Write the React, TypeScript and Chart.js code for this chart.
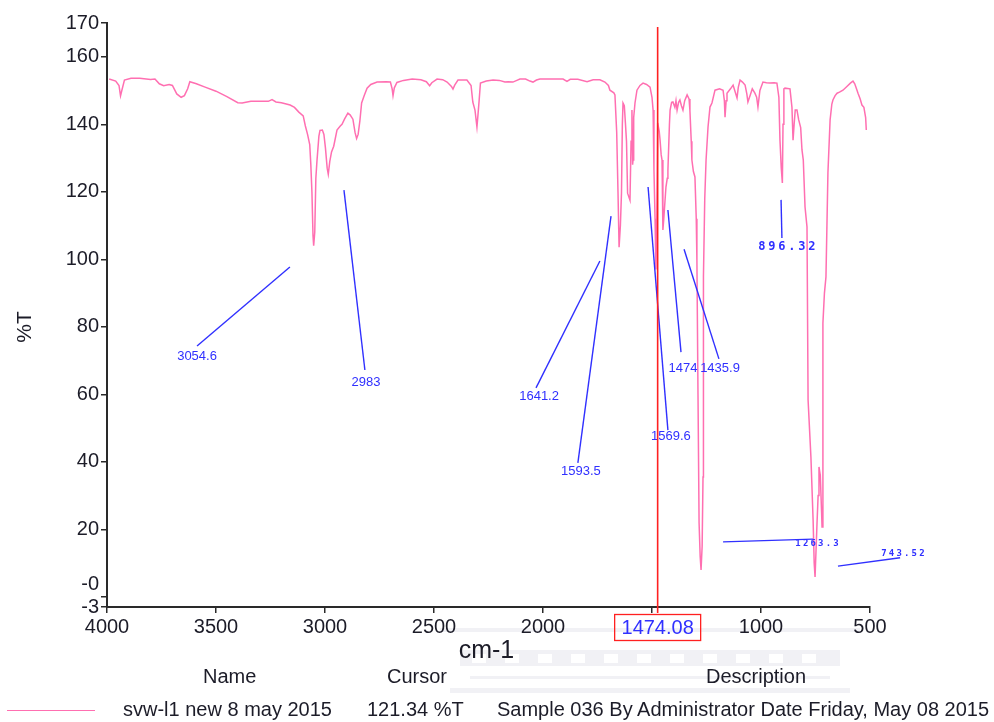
import { useEffect, useRef } from "react";
import { Chart, registerables } from "chart.js";

Chart.register(...registerables);

// ---- data -------------------------------------------------------------
const wavenumbers = [
  3990, 3960, 3945, 3938, 3932, 3920, 3890, 3850, 3800, 3780, 3760, 3740, 3715, 3700, 3680, 3660, 3645, 3630, 3620,
  3590, 3550, 3500, 3450, 3400, 3380, 3340, 3300, 3260, 3243, 3225, 3200, 3160, 3140, 3120, 3100, 3090, 3080, 3070,
  3065, 3060, 3055, 3052, 3047, 3042, 3037, 3028, 3023, 3012, 3005, 2998, 2990, 2985, 2978, 2970, 2960, 2945, 2930,
  2922, 2910, 2895, 2885, 2872, 2862, 2855, 2848, 2840, 2832, 2820, 2807, 2790, 2761, 2720, 2700, 2692, 2688, 2682,
  2670, 2640, 2600, 2560, 2535, 2520, 2510, 2486, 2460, 2440, 2420, 2413, 2405, 2390, 2349, 2330, 2322, 2312, 2303,
  2298, 2293, 2287, 2260, 2229, 2200, 2175, 2160, 2138, 2120, 2106, 2080, 2060, 2046, 2030, 2014, 1960, 1908, 1890,
  1875, 1840, 1798, 1770, 1739, 1716, 1700, 1693, 1675, 1670, 1662, 1656, 1651, 1645, 1640, 1636, 1633, 1627, 1622,
  1617, 1612, 1601, 1596, 1592, 1589, 1587, 1584, 1578, 1569, 1555, 1541, 1525, 1509, 1500, 1495, 1491, 1486, 1482,
  1478, 1474, 1467, 1463, 1458, 1454, 1450, 1446, 1436, 1430, 1427, 1420, 1417, 1410, 1404, 1395, 1390, 1385, 1378,
  1372, 1365, 1358, 1350, 1339, 1330, 1326, 1320, 1317, 1310, 1303, 1297, 1294, 1289, 1284, 1279, 1275, 1270, 1266,
  1264, 1258, 1252, 1243, 1234, 1225, 1211, 1190, 1174, 1168, 1165, 1160, 1156, 1140, 1128, 1118, 1110, 1104, 1096,
  1085, 1073, 1065, 1060, 1050, 1040, 1028, 1020, 1014, 1005, 991, 975, 959, 940, 927, 918, 913, 907, 902, 899, 895,
  890, 867, 858, 853, 848, 843, 835, 827, 818, 812, 806, 798, 789, 784, 771, 761, 756, 752, 748, 743, 738, 734, 728,
  722, 720, 716, 709, 702, 693, 683, 675, 670, 660, 651, 640, 624, 606, 590, 578, 570, 562, 555, 545, 537, 528, 520,
  517,
];
const transmittance = [
  153.4, 152.8, 151.5, 148.4, 150.0, 153.1, 153.6, 153.6, 153.3, 153.4, 152.0, 151.4, 151.8, 151.5, 149.0, 148.0,
  148.5, 150.5, 152.6, 152.0, 151.0, 149.8, 148.2, 146.4, 146.3, 146.8, 146.8, 146.8, 147.3, 146.6, 146.4, 145.7,
  145.0, 143.6, 142.5, 139.5, 137.0, 134.0, 128.0, 120.0, 107.0, 104.0, 108.0, 124.0, 129.0, 136.5, 138.2, 138.3,
  137.0, 133.0, 127.0, 125.2, 129.0, 131.8, 133.5, 138.3, 139.5, 140.0, 141.6, 143.3, 142.8, 141.5, 137.5, 135.8,
  137.0, 141.0, 146.3, 148.5, 150.7, 151.8, 152.5, 152.6, 152.5, 150.5, 148.5, 150.8, 152.4, 153.0, 153.4, 153.2,
  152.6, 151.4, 152.3, 153.4, 153.2, 152.5, 151.2, 150.4, 151.6, 153.1, 153.1, 151.5, 146.6, 144.2, 139.2, 143.0,
  147.0, 152.2, 152.8, 153.1, 153.0, 152.5, 152.6, 152.5, 153.0, 153.4, 153.4, 152.8, 152.5, 153.1, 153.4, 153.4,
  153.4, 152.7, 153.3, 153.3, 152.6, 153.2, 153.2, 152.5, 151.5, 150.1, 149.3, 148.7, 137.7, 120.0, 103.6, 110.0,
  119.6, 140.0, 146.3, 145.5, 140.4, 135.0, 119.6, 117.5, 135.0, 144.2, 128.0, 129.4, 142.0, 146.3, 150.1, 151.5,
  152.2, 151.8, 151.0, 148.0, 144.2, 126.4, 112.0, 97.0, 112.0, 140.4, 138.0, 135.3, 131.0, 129.4, 108.7, 112.0,
  121.4, 124.0, 126.4, 140.0, 144.2, 146.5, 146.6, 145.0, 147.0, 144.2, 146.5, 147.2, 145.5, 144.2, 147.0, 148.7,
  147.5, 144.0, 135.0, 129.4, 126.0, 124.4, 112.0, 99.8, 60.0, 21.9, 12.0, 8.0, 15.0, 35.5, 95.0, 118.0, 129.4,
  139.2, 145.1, 146.3, 150.1, 150.5, 150.1, 147.0, 142.1, 147.0, 149.2, 150.5, 151.6, 149.5, 147.8, 151.0, 153.1,
  152.5, 151.6, 149.0, 146.6, 148.5, 150.5, 149.2, 148.0, 145.1, 150.0, 152.5, 152.3, 152.2, 152.3, 152.2, 148.0,
  135.3, 127.0, 122.6, 140.0, 150.5, 150.7, 150.5, 145.0, 135.3, 140.0, 144.2, 144.2, 141.3, 139.0, 132.4, 129.4,
  115.5, 109.6, 58.3, 41.4, 22.8, 10.0, 5.9, 5.9, 21.9, 30.0, 38.5, 36.0, 25.0, 20.7, 81.1, 90.0, 94.8, 125.6,
  141.3, 146.0, 147.2, 148.5, 149.2, 149.5, 150.1, 151.2, 152.2, 152.8, 152.0, 150.5, 149.2, 147.5, 145.7, 145.0,
  142.0, 138.3,
];

const xTickValues = [4000, 3500, 3000, 2500, 2000, 1500, 1000, 500];
const yTickValues = [170, 160, 140, 120, 100, 80, 60, 40, 20, 0, -3];

// peak call-outs (data coordinates)
const peakLabels = ["3054.6", "2983", "1641.2", "1593.5", "1569.6", "1474", "1435.9", "896.32", "1263.3", "743.52"];
const peakLineStartWn = [3161, 2913, 1739, 1688, 1518, 1427, 1353, 908, 1174, 647];
const peakLineStartT = [97.7, 120.5, 99.5, 112.8, 121.4, 114.6, 103.0, 117.6, 16.3, 9.1];
const peakLineEndWn = [3587, 2817, 2032, 1840, 1427, 1367, 1193, 904, 762, 362];
const peakLineEndT = [74.3, 67.2, 61.9, 39.7, 49.4, 72.5, 70.5, 106.3, 17.1, 11.6];
const peakLabelWn = [3587, 2812, 2018, 1826, 1413, 1358, 1188, 881, 743, 349];
const peakLabelT = [71.3, 63.6, 59.5, 37.3, 47.4, 67.8, 67.8, 103.6, 15.7, 12.7];
const peakLabelKind = ["plain", "plain", "plain", "plain", "plain", "plain", "plain", "mono", "monoSmall", "monoSmall"];

const cursorWn = 1474.08;
const cursorLabel = "1474.08";
const cursorValue = "121.34 %T";
const sampleName = "svw-l1 new 8 may 2015";
const sampleDescription = "Sample 036 By Administrator Date Friday, May 08 2015";

const PINK = "#ff6fb1";
const BLUE = "#3030ff";
const AXIS = "#2a2a2a";
const TEXT = "#1c1c28";
const WATERMARK = "#f1f1f5";
const FONT = "'Liberation Sans', Arial, sans-serif";

const annotationPlugin = {
  id: "irAnnotations",
  afterDatasetsDraw(chart: any) {
    const { ctx, chartArea } = chart;
    const xs = chart.scales.x;
    const ys = chart.scales.y;
    ctx.save();
    // call-out lines
    ctx.strokeStyle = BLUE;
    ctx.lineWidth = 1.4;
    for (let i = 0; i < peakLabels.length; i++) {
      ctx.beginPath();
      ctx.moveTo(xs.getPixelForValue(peakLineStartWn[i]), ys.getPixelForValue(peakLineStartT[i]));
      ctx.lineTo(xs.getPixelForValue(peakLineEndWn[i]), ys.getPixelForValue(peakLineEndT[i]));
      ctx.stroke();
    }
    // call-out labels
    ctx.fillStyle = BLUE;
    ctx.textBaseline = "middle";
    for (let i = 0; i < peakLabels.length; i++) {
      const px = xs.getPixelForValue(peakLabelWn[i]);
      const py = ys.getPixelForValue(peakLabelT[i]);
      const kind = peakLabelKind[i];
      if (kind === "plain") {
        ctx.font = `13px ${FONT}`;
        ctx.textAlign = "center";
        ctx.fillText(peakLabels[i], px, py);
      } else {
        const big = kind === "mono";
        ctx.font = big ? "bold 12px 'DejaVu Sans Mono', monospace" : "bold 9px 'DejaVu Sans Mono', monospace";
        ctx.textAlign = "center";
        const step = big ? 10 : 7.6;
        const s = peakLabels[i];
        const start = px - ((s.length - 1) * step) / 2;
        for (let k = 0; k < s.length; k++) ctx.fillText(s[k], start + k * step, py);
      }
    }
    // cursor
    const cx = xs.getPixelForValue(cursorWn);
    ctx.strokeStyle = "#ff2020";
    ctx.lineWidth = 1.6;
    ctx.beginPath();
    ctx.moveTo(cx, ys.getPixelForValue(168.8));
    ctx.lineTo(cx, chartArea.bottom + 6);
    ctx.stroke();
    ctx.lineWidth = 1.3;
    ctx.strokeRect(cx - 43, chartArea.bottom + 7.5, 86, 26);
    ctx.fillStyle = BLUE;
    ctx.font = `20px ${FONT}`;
    ctx.textAlign = "center";
    ctx.fillText(cursorLabel, cx, chartArea.bottom + 21);
    // axis titles
    ctx.fillStyle = TEXT;
    ctx.font = `25px ${FONT}`;
    ctx.fillText("cm-1", (chartArea.left + chartArea.right) / 2 - 2, chartArea.bottom + 44);
    ctx.save();
    ctx.translate(25, (chartArea.top + chartArea.bottom) / 2 + 12);
    ctx.rotate(-Math.PI / 2);
    ctx.font = `21px ${FONT}`;
    ctx.fillText("%T", 0, 0);
    ctx.restore();
    ctx.restore();
  },
};

function Watermark() {
  const wm: any = { position: "absolute", background: WATERMARK };
  const windows = [0, 1, 2, 3, 4, 5, 6, 7, 8, 9, 10];
  return (
    <>
      <div style={{ ...wm, left: 440, top: 628, width: 420, height: 4 }} />
      <div style={{ ...wm, left: 460, top: 650, width: 380, height: 16 }} />
      {windows.map((k) => (
        <div key={k} style={{ position: "absolute", background: "#fff", left: 472 + k * 33, top: 654, width: 14, height: 9 }} />
      ))}
      <div style={{ ...wm, left: 450, top: 688, width: 400, height: 5 }} />
      <div style={{ ...wm, left: 470, top: 676, width: 360, height: 3 }} />
    </>
  );
}

export default function App() {
  const canvasRef = useRef<HTMLCanvasElement | null>(null);

  useEffect(() => {
    if (!canvasRef.current) return;
    const points = wavenumbers.map((w, i) => ({ x: w, y: transmittance[i] }));
    const chart = new Chart(canvasRef.current, {
      type: "line",
      data: {
        datasets: [
          {
            label: sampleName,
            data: points,
            borderColor: PINK,
            borderWidth: 1.5,
            pointRadius: 0,
            fill: false,
            tension: 0,
          },
        ],
      },
      options: {
        responsive: false,
        animation: false,
        devicePixelRatio: 1,
        layout: { padding: { left: 0, top: 23, right: 124, bottom: 0 } },
        plugins: { legend: { display: false }, tooltip: { enabled: false } },
        scales: {
          x: {
            type: "linear",
            reverse: true,
            min: 500,
            max: 4000,
            afterBuildTicks: (scale: any) => {
              scale.ticks = xTickValues.map((v) => ({ value: v }));
            },
            afterFit: (scale: any) => {
              scale.height = 115;
            },
            ticks: {
              autoSkip: false,
              maxRotation: 0,
              padding: 2,
              color: TEXT,
              font: { family: FONT, size: 20 },
              callback: (v: any) => (Number(v) === 1500 ? "" : String(v)),
            },
            grid: { drawOnChartArea: false, drawTicks: true, tickLength: 6, color: AXIS, lineWidth: 1.5 },
            border: { display: true, color: AXIS, width: 2 },
          },
          y: {
            type: "linear",
            min: -3,
            max: 170,
            afterBuildTicks: (scale: any) => {
              scale.ticks = yTickValues.map((v) => ({ value: v }));
            },
            afterFit: (scale: any) => {
              scale.width = 107;
            },
            ticks: {
              autoSkip: false,
              padding: 2,
              color: TEXT,
              font: { family: FONT, size: 20 },
              callback: (v: any) => (Number(v) === 0 ? ["-0", ""] : String(v)),
            },
            grid: { drawOnChartArea: false, drawTicks: true, tickLength: 6, color: AXIS, lineWidth: 1.5 },
            border: { display: true, color: AXIS, width: 2 },
          },
        },
      },
      plugins: [annotationPlugin],
    });
    return () => chart.destroy();
  }, []);

  const txt: any = {
    position: "absolute",
    fontFamily: FONT,
    fontSize: 20,
    lineHeight: "20px",
    color: TEXT,
    whiteSpace: "nowrap",
  };

  return (
    <div style={{ position: "fixed", left: 0, top: 0, width: 994, height: 722, overflow: "hidden", background: "#fff" }}>
      <Watermark />
      <canvas ref={canvasRef} width={994} height={722} style={{ position: "absolute", left: 0, top: 0, width: 994, height: 722 }} />
      <div style={{ ...txt, left: 203, top: 666 }}>Name</div>
      <div style={{ ...txt, left: 387, top: 666 }}>Cursor</div>
      <div style={{ ...txt, left: 706, top: 666 }}>Description</div>
      <div style={{ position: "absolute", left: 7, top: 710, width: 88, height: 0, borderTop: `1.5px solid ${PINK}` }} />
      <div style={{ ...txt, left: 123, top: 699 }}>{sampleName}</div>
      <div style={{ ...txt, left: 367, top: 699 }}>{cursorValue}</div>
      <div style={{ ...txt, left: 497, top: 699 }}>{sampleDescription}</div>
    </div>
  );
}
